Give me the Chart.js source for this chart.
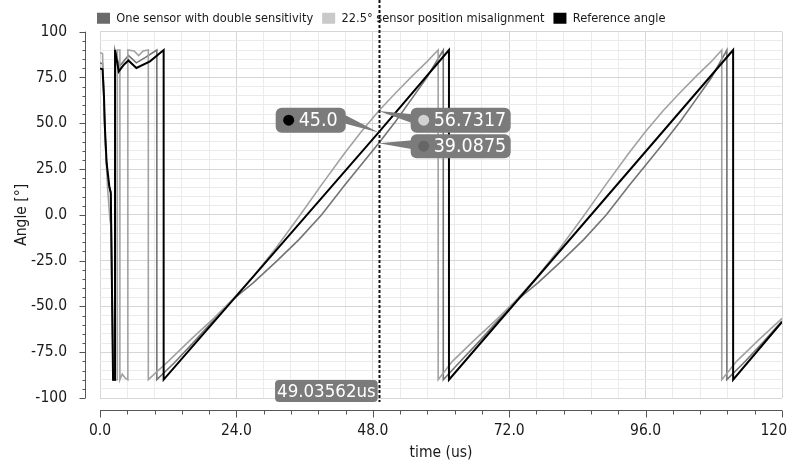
<!DOCTYPE html>
<html>
<head>
<meta charset="utf-8">
<script src="https://cdn.jsdelivr.net/npm/chart.js@4.4.1/dist/chart.umd.min.js"></script>
<style>
  html, body { margin: 0; padding: 0; background: #fff; }
  #wrap { width: 788px; height: 462px; }
</style>
</head>
<body>
<div id="wrap"><canvas id="chart" width="788" height="462"></canvas></div>
<script>
var seriesNames = ['One sensor with double sensitivity', '22.5\u00b0 sensor position misalignment', 'Reference angle'];

// one sensor with double sensitivity
var sensTime = [0, 0.45, 0.62, 0.8, 1.05, 1.5, 1.9, 2.35, 2.6, 2.6, 3.4, 5.0, 6.4, 8.0, 10.0, 10.0,
    13, 16.5, 20, 23.4, 27, 31, 35, 39, 43, 46, 49.03562, 52, 55, 57.5, 60.4, 60.4,
    63.1, 66.6, 70.1, 73.5, 77.1, 81.1, 85.1, 89.1, 93.1, 96.1, 99.1, 102.1, 105.1, 107.6, 110.3, 110.3,
    113.2, 116.7, 120];
var sensAngle = [83, 82.5, 70, 50, 32, 17, 12.5, -90, -90, 90, 81, 87, 83, 86, 90, -90,
    -81, -69.5, -57.5, -46.2, -37, -25.5, -13.5, 0, 16, 27.5, 39.0875, 51, 64, 75, 90, -90,
    -81, -69.5, -57.5, -46.2, -37, -25.5, -13.5, 0, 16, 27.5, 39, 51, 64, 75, 90, -90,
    -81, -69.5, -58];

// 22.5 deg sensor position misalignment
var misTime = [0, 0.45, 0.6, 0.8, 1.05, 1.35, 1.76, 1.95, 2.3, 3.05, 3.05, 3.5, 3.5,
    3.9, 4.4, 4.9, 4.9, 6.0, 6.8, 7.6, 8.5, 8.5,
    12, 16, 20, 23.4, 27, 31, 35, 39, 43, 46, 49.03562, 52, 55, 57.5, 59.5, 59.5,
    62, 66, 70, 73.4, 77, 81, 85, 89, 93, 96, 99.04, 102, 105, 107.5, 109.4, 109.4,
    112, 116, 120];
var misAngle = [88.7, 88, 72, 52, 32, 14, -3, -6, -90, -90, 90, 90, -90,
    -87, -89, -90, 90, 89.5, 87, 89.5, 90, -90,
    -80, -68, -56.5, -46, -33.5, -18, -1, 16.5, 33.5, 45.5, 56.7317, 66.5, 76, 83.5, 90, -90,
    -80, -68, -56.5, -46, -33.5, -18, -1, 16.5, 33.5, 45.5, 56.7, 66.5, 76, 83.5, 90, -90,
    -80, -68, -56.5];

// reference angle
var refTime = [0, 0.45, 0.7, 0.88, 1.17, 1.64, 1.9, 2.3, 2.65, 2.65,
    3.3, 4.2, 5.0, 6.4, 8.8, 11.2, 11.2, 49.03562, 61.4, 61.4, 111.4, 111.4, 120];
var refAngle = [80, 79.5, 64.6, 46.4, 28.2, 15.5, 11.8, -90, -90, 90,
    78.3, 82, 84.3, 80.2, 83.8, 90, -90, 45, 90, -90, 90, -90, -58.5];

// cursor readout
var cursorTime = 49.03562;
var cursorValues = [39.0875, 56.7317, 45.0];
var cursorTexts = ['39.0875', '56.7317', '45.0'];
var cursorTimeText = '49.03562us';

var lineColors = ['#747474', '#a2a2a2', '#000000'];
var legendColors = ['#6a6a6a', '#c9c9c9', '#000000'];
var dotColors = ['#666666', '#d2d2d2', '#000000'];
var FONT = '"DejaVu Sans Condensed", "DejaVu Sans", sans-serif';
var BOX = '#7b7b7b';

function toPoints(xs, ys) {
    return xs.map(function (x, i) { return { x: x, y: ys[i] }; });
}
function isMulti(v, step) {
    return Math.abs(Math.round(v / step) * step - v) < 1e-6;
}
function fmt(v) {
    return Math.abs(v) >= 100 ? String(Math.round(v)) : v.toFixed(1);
}
function roundRect(ctx, x, y, w, h, r) {
    ctx.beginPath();
    ctx.moveTo(x + r, y);
    ctx.arcTo(x + w, y, x + w, y + h, r);
    ctx.arcTo(x + w, y + h, x, y + h, r);
    ctx.arcTo(x, y + h, x, y, r);
    ctx.arcTo(x, y, x + w, y, r);
    ctx.closePath();
}
function bubble(ctx, left, cy, w, h, tip, dotColor, text) {
    var edge = tip.x < left ? left + 2 : left + w - 2;
    ctx.fillStyle = BOX;
    ctx.beginPath();
    ctx.moveTo(edge, cy - 6);
    ctx.lineTo(tip.x, tip.y);
    ctx.lineTo(edge, cy + 3);
    ctx.closePath();
    ctx.fill();
    roundRect(ctx, left, cy - h / 2, w, h, 6);
    ctx.fill();
    ctx.beginPath();
    ctx.arc(left + 13, cy, 5.5, 0, Math.PI * 2);
    ctx.fillStyle = dotColor;
    ctx.fill();
    ctx.fillStyle = '#ffffff';
    ctx.font = '19.5px ' + FONT;
    ctx.textAlign = 'left';
    ctx.textBaseline = 'middle';
    ctx.fillText(text, left + 23, cy + 1);
}

var readout = {
    id: 'readout',
    afterLayout: function (chart) {
        chart.legend.left = 88;
        chart.legend.top = 3;
    },
    beforeDraw: function (chart) {
        var xs = chart.scales.x;
        var items = xs.getLabelItems(chart.chartArea);
        var last = items[items.length - 1];
        if (last) {
            last.options.textAlign = 'right';
            last.options.translation[0] = chart.chartArea.right + 5;
        }
    },
    afterDatasetsDraw: function (chart) {
        var ctx = chart.ctx, xs = chart.scales.x, a = chart.chartArea;
        var cx = Math.round(xs.getPixelForValue(cursorTime)) + 0.5;
        ctx.save();
        ctx.strokeStyle = '#111';
        ctx.lineWidth = 2;
        ctx.setLineDash([3, 2]);
        ctx.beginPath();
        ctx.moveTo(cx, 0);
        ctx.lineTo(cx, a.bottom + 4);
        ctx.stroke();
        ctx.restore();
    },
    afterDraw: function (chart) {
        var ctx = chart.ctx, xs = chart.scales.x, ys = chart.scales.y, a = chart.chartArea;
        ctx.save();
        // detached axis lines with tick marks
        ctx.strokeStyle = '#555';
        ctx.lineWidth = 1;
        var ax = a.left - 14.5;
        ctx.beginPath();
        ctx.moveTo(ax, a.top);
        ctx.lineTo(ax, a.bottom);
        ys.ticks.forEach(function (t) {
            var y = Math.round(ys.getPixelForValue(t.value)) + 0.5;
            var len = isMulti(t.value, 25) ? 6 : 3;
            ctx.moveTo(ax - len, y);
            ctx.lineTo(ax, y);
        });
        var ay = a.bottom + 12.5;
        ctx.moveTo(a.left, ay);
        ctx.lineTo(a.right, ay);
        xs.ticks.forEach(function (t) {
            var x = Math.round(xs.getPixelForValue(t.value)) + 0.5;
            var len = isMulti(t.value, 24) ? 7 : 4;
            ctx.moveTo(x, ay);
            ctx.lineTo(x, ay + len);
        });
        ctx.stroke();

        // readout bubbles
        var cx = xs.getPixelForValue(cursorTime);
        var tips = cursorValues.map(function (v) { return { x: cx, y: ys.getPixelForValue(v) }; });
        bubble(ctx, cx - 103, a.top + 88.5, 70, 25, tips[2], dotColors[2], cursorTexts[2]);
        bubble(ctx, cx + 32, a.top + 88.5, 100, 25, tips[1], dotColors[1], cursorTexts[1]);
        bubble(ctx, cx + 32, a.top + 114.5, 100, 24, tips[0], dotColors[0], cursorTexts[0]);

        // time readout
        ctx.font = '18.5px ' + FONT;
        var tw = ctx.measureText(cursorTimeText).width + 4;
        ctx.fillStyle = BOX;
        roundRect(ctx, cx - tw - 1, a.bottom - 18, tw, 22, 4);
        ctx.fill();
        ctx.fillStyle = '#fff';
        ctx.textAlign = 'center';
        ctx.textBaseline = 'middle';
        ctx.fillText(cursorTimeText, cx - tw / 2 - 1, a.bottom - 6);
        ctx.restore();
    }
};

function lineSet(i, xs, ys, width, order) {
    return {
        label: seriesNames[i],
        data: toPoints(xs, ys),
        borderColor: lineColors[i],
        backgroundColor: legendColors[i],
        borderWidth: width,
        pointRadius: 0,
        tension: 0,
        order: order
    };
}

new Chart(document.getElementById('chart'), {
    type: 'line',
    data: {
        datasets: [
            lineSet(0, sensTime, sensAngle, 1.6, 3),
            lineSet(1, misTime, misAngle, 1.6, 2),
            lineSet(2, refTime, refAngle, 2, 1)
        ]
    },
    options: {
        responsive: false,
        animation: false,
        layout: { padding: { left: 0, right: 6, top: 0, bottom: 0 } },
        plugins: {
            tooltip: { enabled: false },
            legend: {
                position: 'top',
                align: 'start',
                labels: {
                    boxWidth: 13,
                    boxHeight: 11,
                    padding: 9,
                    color: '#1a1a1a',
                    font: { family: FONT, size: 12.7 },
                    sort: function (p, q) { return p.datasetIndex - q.datasetIndex; },
                    generateLabels: function (chart) {
                        return chart.data.datasets.map(function (d, i) {
                            return {
                                text: d.label,
                                fillStyle: legendColors[i],
                                strokeStyle: legendColors[i],
                                lineWidth: 0,
                                fontColor: '#1a1a1a',
                                hidden: false,
                                datasetIndex: i
                            };
                        });
                    }
                }
            }
        },
        scales: {
            x: {
                type: 'linear',
                min: 0,
                max: 120,
                afterFit: function (s) { s.height = 64; s.paddingRight = 0; s.paddingLeft = 0; },
                border: { display: false },
                grid: {
                    color: function (c) { return isMulti(c.tick.value, 24) ? '#d6d6d6' : '#ebebeb'; },
                    tickLength: 21,
                    tickColor: 'rgba(0,0,0,0)'
                },
                ticks: {
                    stepSize: 4.8,
                    autoSkip: false,
                    maxRotation: 0,
                    padding: 3,
                    color: '#1a1a1a',
                    font: { family: FONT, size: 15.5 },
                    callback: function (v) { return isMulti(v, 24) ? fmt(v) : ''; }
                },
                title: {
                    display: true,
                    text: 'time (us)',
                    color: '#1a1a1a',
                    font: { family: FONT, size: 15.5 },
                    padding: { top: 0, bottom: 0 }
                }
            },
            y: {
                min: -100,
                max: 100,
                afterFit: function (s) { s.width = 100; },
                border: { display: false },
                grid: {
                    color: function (c) { return isMulti(c.tick.value, 25) ? '#d6d6d6' : '#ebebeb'; },
                    tickLength: 30,
                    tickColor: 'rgba(0,0,0,0)'
                },
                ticks: {
                    stepSize: 5,
                    autoSkip: false,
                    padding: 3,
                    color: '#1a1a1a',
                    font: { family: FONT, size: 15.5 },
                    callback: function (v) { return isMulti(v, 25) ? fmt(v) : ''; }
                },
                title: {
                    display: true,
                    text: 'Angle [\u00b0]',
                    color: '#1a1a1a',
                    font: { family: FONT, size: 15.5 },
                    padding: { top: 13, bottom: 0 }
                }
            }
        }
    },
    plugins: [readout]
});
</script>
</body>
</html>
